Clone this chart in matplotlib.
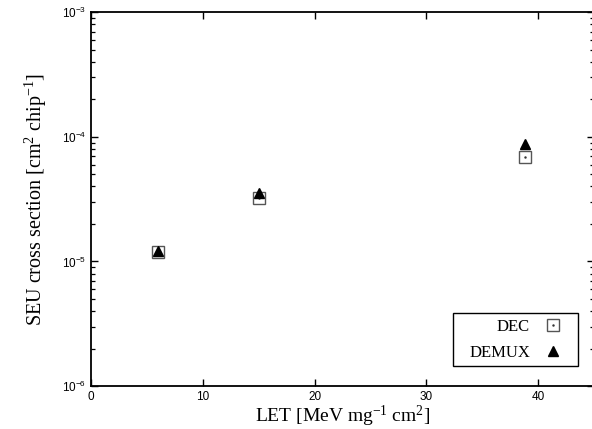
import matplotlib
matplotlib.use("Agg")
import matplotlib.pyplot as plt
from matplotlib.patches import Rectangle
import numpy as np

# data
let = [6.0, 15.0, 38.8]
dec = [1.18e-5, 3.24e-5, 6.9e-5]
demux = [1.22e-5, 3.56e-5, 8.8e-5]

plt.rcParams['font.family'] = ['Liberation Sans', 'DejaVu Sans']
plt.rcParams['mathtext.fontset'] = 'custom'
plt.rcParams['mathtext.rm'] = 'Liberation Serif'
plt.rcParams['mathtext.it'] = 'Liberation Serif:italic'

fig = plt.figure(figsize=(5.92, 4.29), dpi=100)
ax = fig.add_axes([91/592, 43/429, 503/592, 373.7/429])

sq, = ax.plot(let, dec, linestyle='none', marker='s', markersize=8,
              markerfacecolor='white', markeredgecolor='#555555', markeredgewidth=1.0)
dot, = ax.plot(let, dec, linestyle='none', marker='.', markersize=1.5, color='#333333')
tri, = ax.plot(let, demux, linestyle='none', marker='^', markersize=7, color='black')

ax.set_yscale('log')
ax.set_xlim(0, 45)
ax.set_ylim(1e-6, 1e-3)
ax.set_xticks([0, 10, 20, 30, 40])

ax.tick_params(which='both', direction='in', top=True, right=True, labelsize=8.5)
ax.tick_params(which='major', length=5, width=1)
ax.tick_params(which='minor', length=3, width=0.9)
for s in ax.spines.values():
    s.set_linewidth(1.3)

ax.set_xlabel('LET [MeV mg$^{-1}$ cm$^{2}$]', family='Liberation Serif', fontsize=14, labelpad=1)
ax.set_ylabel('SEU cross section [cm$^{2}$ chip$^{-1}$]', family='Liberation Serif', fontsize=14.5, labelpad=9)

# legend: text right-aligned, markers after the text, own frame (wider on the left)
leg = ax.legend([(sq, dot), tri], ['DEC', 'DEMUX'], loc='lower right',
                bbox_to_anchor=(0.954, 0.048), borderaxespad=0, markerfirst=False,
                prop={'family': 'Liberation Serif', 'size': 12}, frameon=False,
                handlelength=1.2, handletextpad=0.8, borderpad=0.45, labelspacing=0.58)
for t in leg.get_texts():
    t.set_ha('right')
ax.add_patch(Rectangle((0.7197, 0.0535), 0.2483, 0.1418, transform=ax.transAxes,
                       facecolor='white', edgecolor='black', linewidth=1.0, zorder=4))
leg.set_zorder(5)

fig.savefig('out.png', dpi=100)
